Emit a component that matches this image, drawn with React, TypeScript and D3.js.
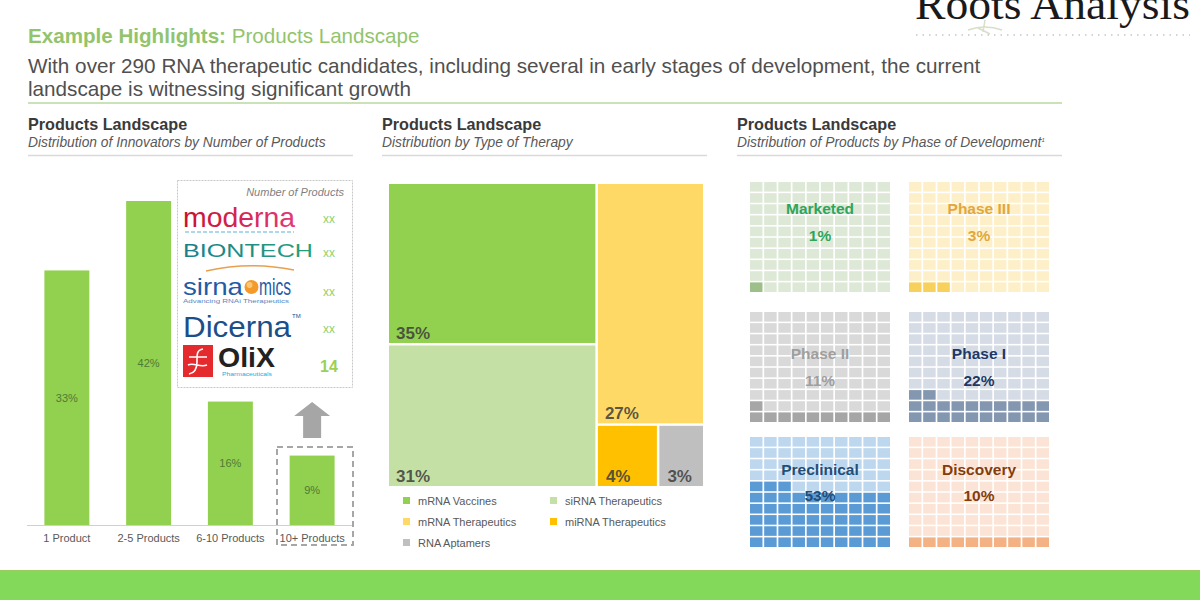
import React from 'react';
import * as d3 from 'd3';

// ---------- DATA ----------
const barCategories = ['1 Product', '2-5 Products', '6-10 Products', '10+ Products'];
const barValues = [33, 42, 16, 9];

const companies = ['moderna', 'BIONTECH', 'sirnaomics', 'Dicerna', 'OliX'];
const companyProducts = ['xx', 'xx', 'xx', 'xx', '14'];

const therapyTypes = ['mRNA Vaccines', 'siRNA Therapeutics', 'mRNA Therapeutics', 'miRNA Therapeutics', 'RNA Aptamers'];
const therapyShares = [35, 31, 27, 4, 3];

const phases = ['Marketed', 'Phase III', 'Phase II', 'Phase I', 'Preclinical', 'Discovery'];
const phaseShares = [1, 3, 11, 22, 53, 10];

// ---------- STYLE ----------
const FONT = '"Liberation Sans", Arial, sans-serif';
const therapyColors = ['#92d050', '#c5e0a4', '#ffd966', '#ffc000', '#bfbfbf'];
const phaseBg = ['#dde8d6', '#fdf0c9', '#d9d9d9', '#d6dce5', '#bdd7ee', '#fbe4d5'];
const phaseFill = ['#9dbf89', '#f8d05c', '#a6a6a6', '#8497b0', '#5b9bd5', '#f4b183'];
const phaseText = ['#30a55a', '#e2a73a', '#9f9f9f', '#1f3864', '#1f4e79', '#843c0c'];

function PanelHeader({ x, sub, note }: { x: number; sub: string; note?: string }) {
  return (
    <g>
      <text x={x} y={130} fontFamily={FONT} fontSize={16.2} fontWeight="bold" fill="#3a3a3a">Products Landscape</text>
      <text x={x} y={147} fontFamily={FONT} fontSize={13.8} fontStyle="italic" fill="#595959">
        {sub}
        {note ? <tspan fontSize={6} dy={-5}>{note}</tspan> : null}
      </text>
      <line x1={x} x2={x + 325} y1={155.5} y2={155.5} stroke="#d9d9d9" strokeWidth={1.5} />
    </g>
  );
}

function BarPanel() {
  const x = d3.scaleBand<string>().domain(barCategories).range([26, 353]).paddingInner(0.45).paddingOuter(0.225);
  const y = d3.scaleLinear().domain([0, 42]).range([525, 201]);
  const last = barCategories[barCategories.length - 1];
  const lx = x(last)! + x.bandwidth() / 2;
  const arrow = d3.path();
  arrow.moveTo(lx, 402);
  arrow.lineTo(lx + 18, 416);
  arrow.lineTo(lx + 9, 416);
  arrow.lineTo(lx + 9, 438);
  arrow.lineTo(lx - 9, 438);
  arrow.lineTo(lx - 9, 416);
  arrow.lineTo(lx - 18, 416);
  arrow.closePath();
  return (
    <g>
      <PanelHeader x={28} sub="Distribution of Innovators by Number of Products" />
      {barCategories.map((c, i) => (
        <g key={c}>
          <rect x={x(c)} y={y(barValues[i])} width={x.bandwidth()} height={y(0) - y(barValues[i])} fill="#92d050" />
          <text x={x(c)! + x.bandwidth() / 2} y={(y(barValues[i]) + y(0)) / 2 + 4} textAnchor="middle"
            fontFamily={FONT} fontSize={11} fill="#4f7b34">{barValues[i]}%</text>
          <text x={x(c)! + x.bandwidth() / 2} y={542} textAnchor="middle" fontFamily={FONT} fontSize={11} fill="#595959">{c}</text>
        </g>
      ))}
      <line x1={27} x2={353} y1={525.5} y2={525.5} stroke="#d0d0d0" strokeWidth={1} />
      <rect x={277} y={447} width={76} height={98} fill="none" stroke="#a6a6a6" strokeWidth={2} strokeDasharray="6 4" />
      <path d={arrow.toString()} fill="#a6a6a6" />
      <LogoBox />
    </g>
  );
}

function LogoBox() {
  const rowY = [223, 257, 296, 333, 372];
  return (
    <g>
      <defs>
        <linearGradient id="modG" x1="0" x2="1">
          <stop offset="0" stopColor="#c8102e" />
          <stop offset="1" stopColor="#e03a78" />
        </linearGradient>
        <linearGradient id="bioG" x1="0" x2="1">
          <stop offset="0" stopColor="#1b7f8c" />
          <stop offset="1" stopColor="#26a07a" />
        </linearGradient>
      </defs>
      <rect x={177.5} y={180.5} width={175} height={207} fill="#ffffff" stroke="#c8c8c8" strokeWidth={1} strokeDasharray="2 1" />
      <text x={344} y={196} textAnchor="end" fontFamily={FONT} fontSize={11} fontStyle="italic" fill="#7f7f7f">Number of Products</text>
      {/* moderna */}
      <text x={183} y={227} fontFamily={FONT} fontSize={28} fill="url(#modG)" textLength={112} lengthAdjust="spacingAndGlyphs">{companies[0]}</text>
      <line x1={185} x2={294} y1={232} y2={232} stroke="#5ab4d6" strokeWidth={1.2} strokeDasharray="4 2" />
      {/* BIONTECH */}
      <text x={183} y={257} fontFamily={FONT} fontSize={19} fill="url(#bioG)" textLength={130} lengthAdjust="spacingAndGlyphs">{companies[1]}</text>
      {/* sirnaomics */}
      <path d="M206,271 Q250,261 294,270" fill="none" stroke="#e8a050" strokeWidth={1.5} />
      <text x={183} y={295} fontFamily={FONT} fontSize={24} fill="#1f5ca8" textLength={60} lengthAdjust="spacingAndGlyphs">sirna</text>
      <circle cx={251.5} cy={287} r={7} fill="#f39a2b" />
      <circle cx={249.5} cy={285} r={3} fill="#f9c77a" />
      <text x={259} y={295} fontFamily={FONT} fontSize={24} fill="#1f5ca8" textLength={32} lengthAdjust="spacingAndGlyphs">mics</text>
      <text x={183} y={303} fontFamily={FONT} fontSize={6} fill="#5a86c0" textLength={106} lengthAdjust="spacingAndGlyphs">Advancing RNAi Therapeutics</text>
      {/* Dicerna */}
      <text x={183} y={337} fontFamily={FONT} fontSize={29} fill="#1b4f8a" textLength={108} lengthAdjust="spacingAndGlyphs">{companies[3]}</text>
      <text x={292} y={318} fontFamily={FONT} fontSize={6} fill="#1b4f8a">TM</text>
      {/* OliX */}
      <rect x={183} y={345} width={30} height={32} fill="#e52a2e" />
      <path d="M203,349 C196,350 197,356 197,362 C197,369 195,373 189,374 M189,357 L207,357 M188,365 C194,362 200,368 207,365" fill="none" stroke="#ffffff" strokeWidth={1.6} />
      <text x={218} y={367} fontFamily={FONT} fontSize={28} fontWeight="bold" fill="#222222" textLength={57} lengthAdjust="spacingAndGlyphs">{companies[4]}</text>
      <text x={222} y={376} fontFamily={FONT} fontSize={6} fill="#2aa8e0" textLength={50} lengthAdjust="spacingAndGlyphs">Pharmaceuticals</text>
      {companyProducts.map((v, i) => (
        <text key={i} x={329} y={rowY[i]} textAnchor="middle" fontFamily={FONT}
          fontSize={i === 4 ? 16 : 12} fontWeight={i === 4 ? 'bold' : 'normal'} fill="#9bd05a">{v}</text>
      ))}
    </g>
  );
}

function TreemapPanel() {
  type N = { name?: string; value?: number; idx?: number; children?: N[] };
  const leaf = (i: number): N => ({ name: therapyTypes[i], value: therapyShares[i], idx: i });
  const data: N = {
    children: [
      { children: [leaf(0), leaf(1)] },
      { children: [leaf(2), { children: [leaf(3), leaf(4)] }] },
    ],
  };
  const root = d3.hierarchy<N>(data).sum((d) => d.value ?? 0);
  d3.treemap<N>().tile(d3.treemapSliceDice).size([314, 302]).paddingInner(2.5)(root);
  const ox = 389, oy = 184;
  const leaves = root.leaves() as d3.HierarchyRectangularNode<N>[];
  const legendPos = [[403, 497], [550, 497], [403, 518], [550, 518], [403, 539]];
  return (
    <g>
      <PanelHeader x={382} sub="Distribution by Type of Therapy" />
      {leaves.map((l) => (
        <g key={l.data.name}>
          <rect x={ox + l.x0} y={oy + l.y0} width={l.x1 - l.x0} height={l.y1 - l.y0} fill={therapyColors[l.data.idx!]} />
          <text x={ox + l.x0 + (l.x1 - l.x0 < 60 ? 8 : 7)} y={oy + l.y1 - 4} fontFamily={FONT} fontSize={17} fontWeight="bold"
            fill="#3d3d3d" fillOpacity={0.85}>{l.data.value}%</text>
        </g>
      ))}
      {therapyTypes.map((t, i) => (
        <g key={t}>
          <rect x={legendPos[i][0]} y={legendPos[i][1]} width={7} height={7} fill={therapyColors[i]} />
          <text x={legendPos[i][0] + 15} y={legendPos[i][1] + 7.5} fontFamily={FONT} fontSize={11} fill="#595959">{t}</text>
        </g>
      ))}
    </g>
  );
}

function WafflePanel() {
  const cols = [750, 909];
  const rows = [182, 312, 437];
  const labelOff = [32, 47, 38];
  const pctOff = [59, 74, 64];
  const cx = d3.scaleBand<number>().domain(d3.range(10)).range([0, 140]).paddingInner(0.12);
  const cy = d3.scaleBand<number>().domain(d3.range(10).reverse()).range([0, 110]).paddingInner(0.14);
  return (
    <g>
      <PanelHeader x={737} sub="Distribution of Products by Phase of Development" note="1" />
      {phases.map((p, k) => {
        const gx = cols[k % 2];
        const ri = Math.floor(k / 2);
        const gy = rows[ri];
        return (
          <g key={p} transform={`translate(${gx},${gy})`}>
            {d3.range(100).map((i) => (
              <rect key={i} x={cx(i % 10)} y={cy(Math.floor(i / 10))} width={cx.bandwidth()} height={cy.bandwidth()}
                fill={i < phaseShares[k] ? phaseFill[k] : phaseBg[k]} />
            ))}
            <text x={70} y={labelOff[ri]} textAnchor="middle" fontFamily={FONT} fontSize={15.5} fontWeight="bold" fill={phaseText[k]}>{p}</text>
            <text x={70} y={pctOff[ri]} textAnchor="middle" fontFamily={FONT} fontSize={15.5} fontWeight="bold" fill={phaseText[k]}>{phaseShares[k]}%</text>
          </g>
        );
      })}
    </g>
  );
}

export default function App() {
  return (
    <svg width={1200} height={600} viewBox="0 0 1200 600" style={{ position: 'absolute', left: 0, top: 0, background: '#fff' }}>
      <rect x={0} y={0} width={1200} height={600} fill="#ffffff" />
      {/* logo */}
      <text x={915} y={19} fontFamily='"Liberation Serif", "Times New Roman", serif' fontSize={44} fill="#1a1a1a" textLength={275} lengthAdjust="spacingAndGlyphs">Roots Analysis</text>
      <path d="M968,30 Q985,24 1002,30 M985,20 L983,32 M978,28 L990,34" fill="none" stroke="#c8d0b0" strokeWidth={1.5} opacity={0.7} />
      <line x1={916} x2={1190} y1={35} y2={35} stroke="#aaaaaa" strokeWidth={1.2} strokeDasharray="1.5 5" />
      {/* header */}
      <text x={28} y={43} fontFamily={FONT} fontSize={20.6} fill="#92c46c">
        <tspan fontWeight="bold">Example Highlights:</tspan> Products Landscape
      </text>
      <text x={28} y={73} fontFamily={FONT} fontSize={20.7} fill="#505050">With over 290 RNA therapeutic candidates, including several in early stages of development, the current</text>
      <text x={28} y={96} fontFamily={FONT} fontSize={20.7} fill="#505050">landscape is witnessing significant growth</text>
      <line x1={28} x2={1062} y1={103} y2={103} stroke="#b9d8a0" strokeWidth={1.5} />
      <BarPanel />
      <TreemapPanel />
      <WafflePanel />
      {/* footer band */}
      <rect x={0} y={570} width={1200} height={30} fill="#82d95a" />
      <rect x={0} y={570} width={1200} height={2} fill="#9ccb5e" />
    </svg>
  );
}
